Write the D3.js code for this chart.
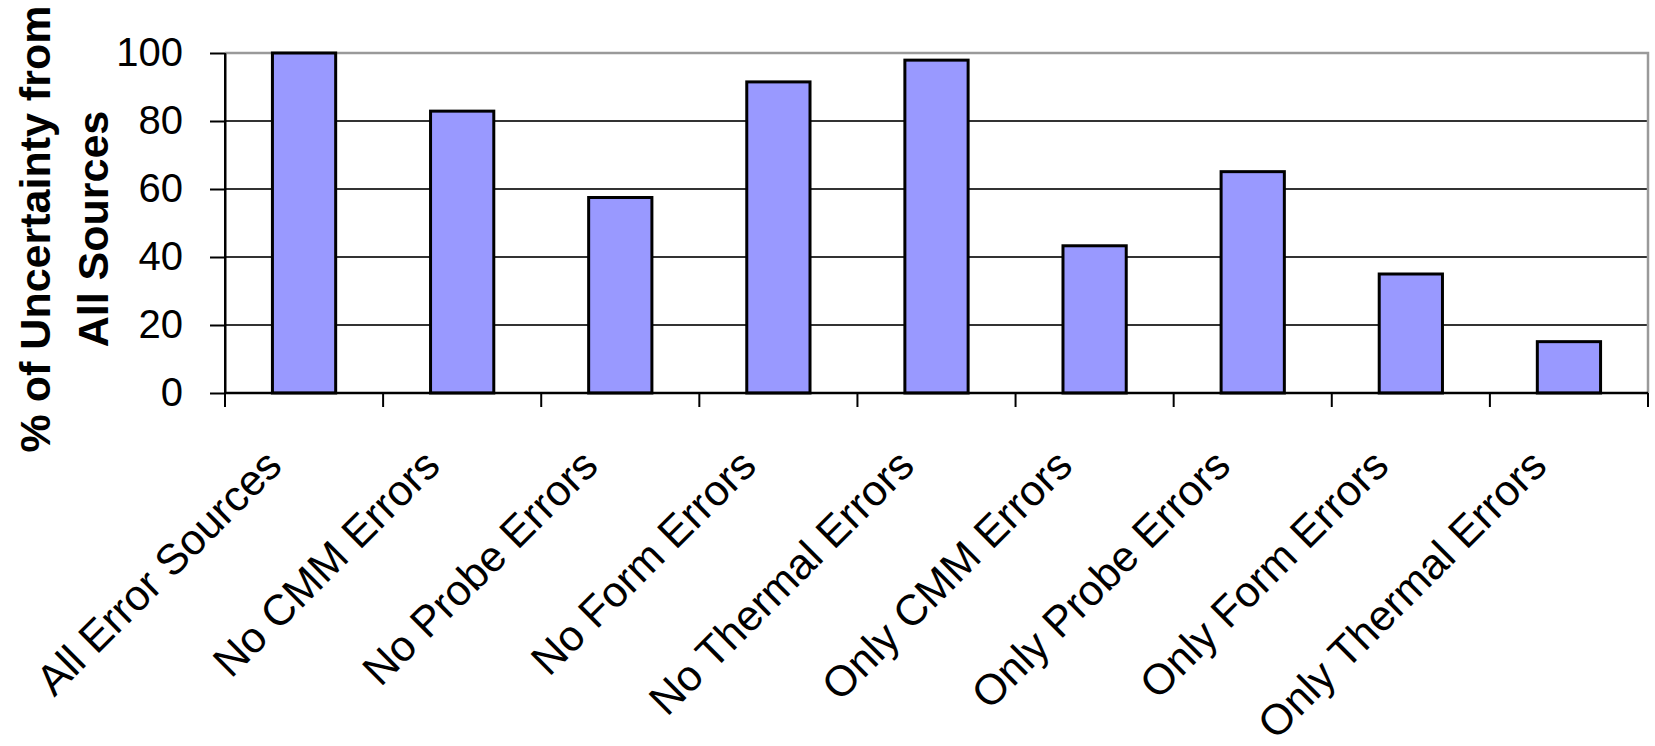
<!DOCTYPE html>
<html>
<head>
<meta charset="utf-8">
<script src="https://cdn.jsdelivr.net/npm/d3@7"></script>
<style>
  html, body { margin: 0; padding: 0; background: #ffffff; }
  svg { display: block; font-family: Arial, "Liberation Sans", sans-serif; }
</style>
</head>
<body>
<svg id="chart" width="1655" height="746"></svg>
<script>
// Share of total measurement uncertainty for each error-source scenario
const categories = [
  "All Error Sources", "No CMM Errors", "No Probe Errors", "No Form Errors",
  "No Thermal Errors", "Only CMM Errors", "Only Probe Errors",
  "Only Form Errors", "Only Thermal Errors"
];
const values = [100, 82.9, 57.5, 91.5, 97.9, 43.3, 65.1, 35.0, 15.1];
const yTicks = [0, 20, 40, 60, 80, 100];
const yTitle = ["% of Uncertainty from", "All Sources"];

const svg = d3.select("#chart");
const plot = { left: 225, right: 1648, top: 53, bottom: 393 };

const x = d3.scaleBand()
  .domain(categories)
  .range([plot.left, plot.right])
  .paddingInner(0.6)
  .paddingOuter(0.3);

const y = d3.scaleLinear()
  .domain([0, 100])
  .range([plot.bottom, plot.top]);

// Horizontal gridlines
svg.append("g")
  .selectAll("line")
  .data(yTicks.filter(v => v > 0 && v < 100))
  .join("line")
  .attr("x1", plot.left).attr("x2", plot.right)
  .attr("y1", d => y(d)).attr("y2", d => y(d))
  .attr("stroke", "#333333").attr("stroke-width", 2);

// Plot-area border (top and right)
svg.append("path")
  .attr("d", `M${plot.left},${y(100)}H${plot.right}V${plot.bottom}`)
  .attr("fill", "none")
  .attr("stroke", "#9a9a9a")
  .attr("stroke-width", 2.5);

// Bars
svg.append("g")
  .selectAll("rect")
  .data(categories.map((c, i) => ({ c, v: values[i] })))
  .join("rect")
  .attr("x", d => x(d.c))
  .attr("width", x.bandwidth())
  .attr("y", d => y(d.v))
  .attr("height", d => y(0) - y(d.v))
  .attr("fill", "#9999ff")
  .attr("stroke", "#000000")
  .attr("stroke-width", 3);

// Y axis
const yAxis = svg.append("g")
  .attr("transform", `translate(${plot.left},0)`)
  .call(d3.axisLeft(y).tickValues(yTicks).tickSize(15).tickPadding(27).tickSizeOuter(0));
yAxis.select(".domain").attr("stroke", "#000").attr("stroke-width", 2);
yAxis.selectAll(".tick line").attr("stroke", "#000").attr("stroke-width", 2);
yAxis.selectAll(".tick text")
  .attr("font-size", 40)
  .attr("font-family", 'Arial, "Liberation Sans", sans-serif')
  .attr("fill", "#000")
  .attr("dy", "0.3em");

// X axis: baseline plus tick marks at category boundaries
const boundaries = d3.range(categories.length + 1).map(i => plot.left + i * x.step());
svg.append("line")
  .attr("x1", plot.left).attr("x2", plot.right)
  .attr("y1", y(0)).attr("y2", y(0))
  .attr("stroke", "#000").attr("stroke-width", 2.5);
svg.append("line")
  .attr("x1", plot.left).attr("x2", plot.left)
  .attr("y1", y(100)).attr("y2", y(0) + 14)
  .attr("stroke", "#000").attr("stroke-width", 2);
svg.append("g")
  .selectAll("line")
  .data(boundaries)
  .join("line")
  .attr("x1", d => d).attr("x2", d => d)
  .attr("y1", y(0)).attr("y2", y(0) + 14)
  .attr("stroke", "#000").attr("stroke-width", 2);

// Rotated category labels
svg.append("g")
  .selectAll("text")
  .data(categories)
  .join("text")
  .attr("transform", d => `translate(${x(d) + x.bandwidth() / 2 - 20},${y(0) + 75}) rotate(-45)`)
  .attr("text-anchor", "end")
  .attr("font-size", 43)
  .attr("fill", "#000")
  .text(d => d);

// Y axis title, two lines
svg.append("g")
  .attr("transform", `translate(50,229) rotate(-90)`)
  .selectAll("text")
  .data(yTitle)
  .join("text")
  .attr("x", 0)
  .attr("y", (d, i) => i * 58)
  .attr("text-anchor", "middle")
  .attr("font-size", 43)
  .attr("font-weight", "bold")
  .attr("fill", "#000")
  .text(d => d);
</script>
</body>
</html>
